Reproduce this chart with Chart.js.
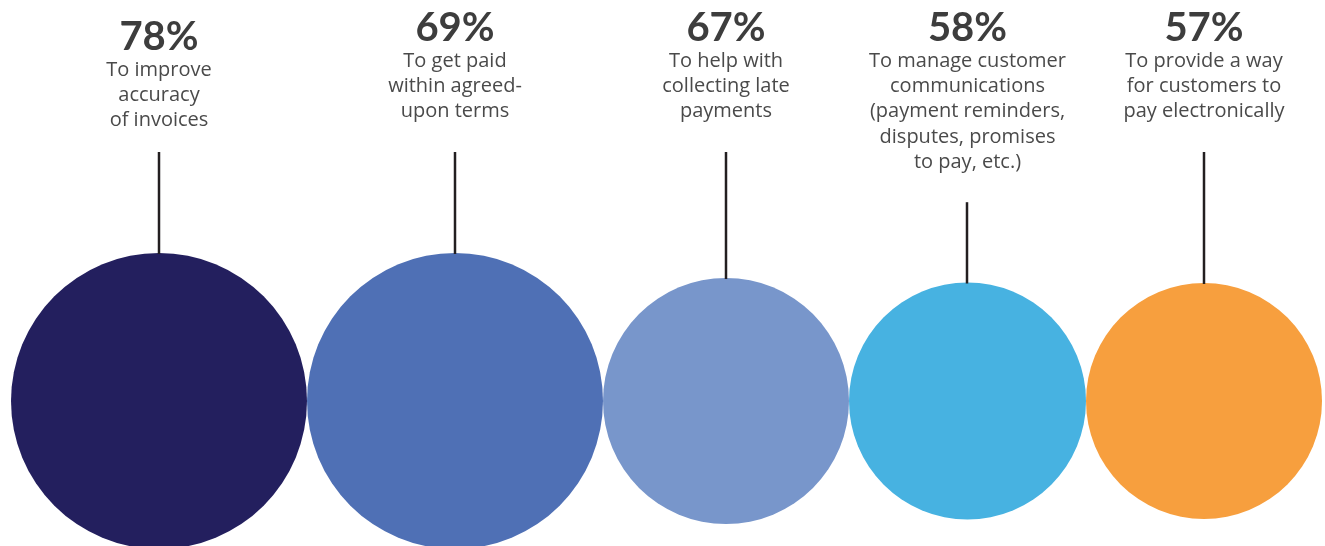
<!DOCTYPE html>
<html>
<head>
<meta charset="utf-8">
<script src="https://cdn.jsdelivr.net/npm/chart.js@4"></script>
<style>
  html, body { margin: 0; padding: 0; background: #fff; }
  #wrap { width: 1325px; height: 546px; position: relative; }
</style>
</head>
<body>
<div id="wrap"><canvas id="bubbles"></canvas></div>
<script>
// survey results
const percents = [78, 69, 67, 58, 57];
const reasons = [
  ["To improve", "accuracy", "of invoices"],
  ["To get paid", "within agreed-", "upon terms"],
  ["To help with", "collecting late", "payments"],
  ["To manage customer", "communications", "(payment reminders,", "disputes, promises", "to pay, etc.)"],
  ["To provide a way", "for customers to", "pay electronically"],
];
// bubble radius for each answer
const bubbleSize = [148, 148, 123, 118.5, 118];
const colors = ["#231f5e", "#4f70b5", "#7896cb", "#47b2e1", "#f79f3e"];

// bubbles sit side by side, each touching the next
let cursor = 0;
const points = bubbleSize.map((r, i) => {
  const x = cursor + r;
  cursor = x + r;
  return { x: x, y: 0, r: r };
});

// percent + caption above each bubble, with a stem down to it
const captions = {
  id: "captions",
  afterDatasetsDraw(chart, args, opts) {
    const ctx = chart.ctx;
    const meta = chart.getDatasetMeta(0);
    const lineGap = 25.3;
    ctx.save();
    ctx.textAlign = "center";
    ctx.textBaseline = "middle";
    meta.data.forEach((pt, i) => {
      const top = opts.top + (opts.shift[i] || 0);
      const lines = reasons[i];

      ctx.fillStyle = "#3d3d3d";
      ctx.font = "bold 40px Lato";
      ctx.fillText(percents[i] + "%", pt.x, top);

      ctx.fillStyle = "#4a4a4a";
      ctx.font = "20px 'Open Sans'";
      lines.forEach((line, j) => {
        ctx.fillText(line, pt.x, top + 33 + j * lineGap);
      });

      // stem starts below the caption block
      const lastLine = opts.top + 33 + (lines.length - 1) * lineGap;
      const stemTop = Math.max(opts.stemTop, lastLine + 40);
      const r = pt.options.radius;
      ctx.strokeStyle = "#231f20";
      ctx.lineWidth = 2.5;
      ctx.beginPath();
      ctx.moveTo(Math.round(pt.x), stemTop);
      ctx.lineTo(Math.round(pt.x), pt.y - r + 1);
      ctx.stroke();
    });
    ctx.restore();
  },
};

new Chart(document.getElementById("bubbles"), {
  type: "bubble",
  data: {
    datasets: [{
      data: points,
      backgroundColor: colors,
      borderWidth: 0,
      hoverBorderWidth: 0,
      clip: false,
    }],
  },
  options: {
    responsive: true,
    maintainAspectRatio: false,
    animation: false,
    events: [],
    layout: { autoPadding: false, padding: { top: 256, bottom: 0, left: 0, right: 0 } },
    scales: {
      x: { display: false, min: -11, max: 1314 },
      y: { display: false, min: -1, max: 1 },
    },
    plugins: {
      legend: { display: false },
      tooltip: { enabled: false },
      captions: { top: 28, shift: [9, 0, 0, 0, 0], stemTop: 152 },
    },
  },
  plugins: [captions],
});
</script>
</body>
</html>
